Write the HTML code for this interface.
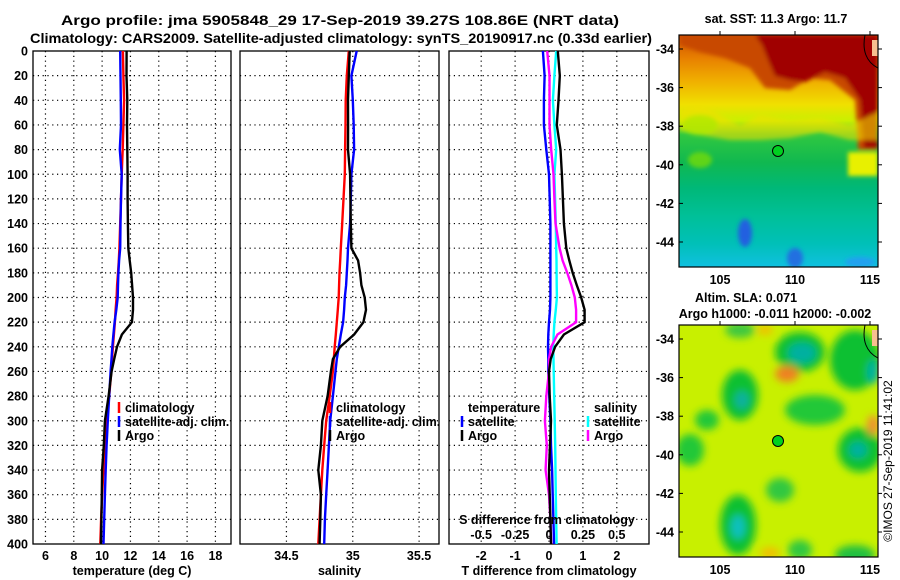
<!DOCTYPE html>
<html><head><meta charset="utf-8">
<style>
html,body{margin:0;padding:0;background:#fff;}
svg{display:block;font-family:"Liberation Sans",Arial,sans-serif;font-weight:bold;}
</style></head>
<body>
<svg id="chart" width="900" height="580" viewBox="0 0 900 580" xmlns="http://www.w3.org/2000/svg">
<defs>
<clipPath id="clipTop"><rect x="679" y="35" width="199" height="232"/></clipPath>
<clipPath id="clipBot"><rect x="679" y="325" width="199" height="232"/></clipPath>
<linearGradient id="sstGrad" x1="0" y1="0" x2="0" y2="1">
<stop offset="0" stop-color="#d05000"/>
<stop offset="0.1" stop-color="#e88000"/>
<stop offset="0.2" stop-color="#f0b000"/>
<stop offset="0.3" stop-color="#f0e000"/>
<stop offset="0.37" stop-color="#c8f000"/>
<stop offset="0.43" stop-color="#30c840"/>
<stop offset="0.55" stop-color="#10b850"/>
<stop offset="0.66" stop-color="#00b878"/>
<stop offset="0.78" stop-color="#00c098"/>
<stop offset="0.9" stop-color="#00c0b8"/>
<stop offset="1" stop-color="#10c0e0"/>
</linearGradient>
<filter id="blur4"><feGaussianBlur stdDeviation="4"/></filter>
<filter id="blur2"><feGaussianBlur stdDeviation="2"/></filter>
</defs>
<g id="titles">
<text x="340" y="25" font-size="13.5" text-anchor="middle" textLength="558" lengthAdjust="spacingAndGlyphs">Argo profile: jma 5905848_29 17-Sep-2019 39.27S 108.86E (NRT data)</text>
<text x="341" y="43" font-size="13.5" text-anchor="middle" textLength="622" lengthAdjust="spacingAndGlyphs">Climatology: CARS2009. Satellite-adjusted climatology: synTS_20190917.nc (0.33d earlier)</text>
</g>
<g id="panels"></g>
<g id="maps">
<g clip-path="url(#clipTop)">
<rect x="679" y="35" width="199" height="232" fill="url(#sstGrad)"/>
<g filter="url(#blur2)">
<polygon points="680,35 878,35 878,150 858,150 855,100 830,80 810,78 790,90 765,88 750,68 725,58 700,52 680,45" fill="#c84800"/>
<polygon points="755,35 878,35 878,148 864,148 860,100 845,78 825,72 805,82 790,80 775,76 768,60 762,45" fill="#a00000"/>
<polygon points="680,110 700,105 720,115 740,125 760,115 790,120 820,118 850,125 878,112 878,140 850,140 820,132 790,138 760,140 730,140 700,135 680,130" fill="#f0e000" opacity="0.6"/>
<rect x="848" y="152" width="30" height="24" fill="#e8f000"/>
<ellipse cx="700" cy="125" rx="18" ry="10" fill="#b0e800" opacity="0.8"/>
<ellipse cx="700" cy="160" rx="12" ry="8" fill="#80e000" opacity="0.7"/>
<ellipse cx="745" cy="233" rx="7" ry="14" fill="#2060e0"/>
<ellipse cx="795" cy="258" rx="8" ry="10" fill="#2070e0"/>
<ellipse cx="860" cy="262" rx="15" ry="5" fill="#20a0f0"/>
</g>
<polygon points="872,40 878,40 878,56 872,56" fill="#f8c090"/>
<path d="M865,35 C862,50 866,62 878,68" fill="none" stroke="#000" stroke-width="1"/>
</g>
<rect x="679" y="35" width="199" height="232" fill="none" stroke="#000" stroke-width="1.2"/>
<g clip-path="url(#clipBot)">
<rect x="679" y="325" width="199" height="232" fill="#c8f000"/>
<g filter="url(#blur4)">
<ellipse cx="800" cy="352" rx="25" ry="20" fill="#10c030"/>
<ellipse cx="855" cy="360" rx="25" ry="30" fill="#10c030"/>
<ellipse cx="740" cy="395" rx="18" ry="25" fill="#10c030"/>
<ellipse cx="815" cy="410" rx="30" ry="15" fill="#20c838"/>
<ellipse cx="860" cy="450" rx="22" ry="22" fill="#10c030"/>
<ellipse cx="690" cy="450" rx="14" ry="16" fill="#20c838"/>
<ellipse cx="707" cy="420" rx="12" ry="10" fill="#20c838"/>
<ellipse cx="738" cy="525" rx="18" ry="30" fill="#10c030"/>
<ellipse cx="780" cy="490" rx="14" ry="12" fill="#30c840"/>
<ellipse cx="800" cy="550" rx="12" ry="10" fill="#30c840"/>
<ellipse cx="855" cy="555" rx="20" ry="10" fill="#20c040"/>
<ellipse cx="740" cy="330" rx="15" ry="8" fill="#40c840"/>
<ellipse cx="802" cy="353" rx="14" ry="10" fill="#00b0a0"/>
<ellipse cx="742" cy="400" rx="7" ry="9" fill="#10b0a0"/>
<ellipse cx="858" cy="450" rx="9" ry="8" fill="#00b0a0"/>
<ellipse cx="738" cy="527" rx="7" ry="12" fill="#10c0c0"/>
<ellipse cx="873" cy="372" rx="6" ry="12" fill="#00b0a0"/>
<ellipse cx="787" cy="374" rx="12" ry="8" fill="#f08020"/>
<ellipse cx="873" cy="425" rx="6" ry="10" fill="#f09030"/>
<ellipse cx="765" cy="330" rx="8" ry="5" fill="#f0c000"/>
<ellipse cx="770" cy="553" rx="10" ry="6" fill="#f0c000"/>
</g>
<polygon points="872,330 878,330 878,346 872,346" fill="#f8c090"/>
<path d="M865,325 C862,340 866,352 878,358" fill="none" stroke="#000" stroke-width="1"/>
</g>
<rect x="679" y="325" width="199" height="232" fill="none" stroke="#000" stroke-width="1.2"/>
<circle cx="778" cy="151" r="5.5" fill="#00d020" stroke="#000" stroke-width="1"/>
<circle cx="778" cy="441" r="5.5" fill="#00d020" stroke="#000" stroke-width="1"/>
<text x="776" y="23" font-size="12.5" text-anchor="middle">sat. SST: 11.3 Argo: 11.7</text>
<text x="746" y="302" font-size="12.5" text-anchor="middle">Altim. SLA: 0.071</text>
<text x="775" y="318" font-size="12.5" text-anchor="middle">Argo h1000: -0.011 h2000: -0.002</text>
<text transform="translate(892,461) rotate(-90)" font-size="12" font-weight="normal" text-anchor="middle">©IMOS 27-Sep-2019 11:41:02</text>
</g>
</svg>
<script>
// ---- data ----
const depths = [0,20,40,60,80,100,120,140,160,170,180,190,200,210,220,230,240,250,260,280,300,320,340,360,380,400];
const tempClim = [11.47,11.5,11.55,11.5,11.45,11.38,11.33,11.28,11.22,11.18,11.12,11.06,11.02,10.95,10.9,10.83,10.76,10.7,10.65,10.5,10.3,10.18,10.1,10.0,9.93,9.87];
const tempSat  = [11.28,11.3,11.32,11.33,11.25,11.38,11.33,11.3,11.28,11.2,11.15,11.12,11.1,11.0,10.88,10.8,10.72,10.66,10.6,10.5,10.4,10.32,10.25,10.2,10.15,10.1];
const tempArgo = [11.73,11.72,11.78,11.76,11.78,11.8,11.8,11.82,11.85,11.95,12.05,12.12,12.18,12.18,12.1,11.4,11.05,10.85,10.67,10.46,10.2,10.12,10.0,9.98,9.95,9.92];
const salClim = [34.97,34.955,34.947,34.945,34.942,34.94,34.93,34.92,34.91,34.905,34.9,34.897,34.894,34.887,34.88,34.872,34.864,34.857,34.85,34.826,34.8,34.785,34.77,34.76,34.75,34.74];
const salSat  = [35.03,34.99,35.0,35.007,35.01,34.99,34.985,34.98,34.964,34.96,34.955,34.95,34.94,34.935,34.927,34.91,34.895,34.88,34.87,34.85,34.83,34.82,34.81,34.8,34.79,34.785];
const salArgo = [34.977,34.97,34.964,34.965,34.964,34.98,34.982,34.985,34.99,35.04,35.055,35.065,35.09,35.1,35.08,35.01,34.905,34.85,34.835,34.81,34.77,34.76,34.74,34.76,34.755,34.75];
const dTempSat  = [-0.18,-0.13,-0.15,-0.15,-0.08,0,0.02,0.04,0.04,0.04,0.04,0.04,0.04,0.03,0.0,-0.02,-0.03,-0.02,-0.02,0.01,0.04,0.06,0.09,0.11,0.13,0.15];
const dTempArgo = [0.26,0.32,0.28,0.23,0.34,0.38,0.41,0.44,0.51,0.6,0.7,0.82,0.95,1.05,1.05,0.44,0.18,0.05,0,0.02,0.06,0.03,0,0.02,0.04,0.06];
const dSalSat  = [0.053,0.04,0.029,0.04,0.053,0.04,0.045,0.05,0.053,0.055,0.056,0.057,0.058,0.05,0.04,0.035,0.031,0.033,0.035,0.038,0.042,0.046,0.048,0.05,0.053,0.056];
const dSalArgo = [-0.013,0.004,0.004,0.004,0.016,0.033,0.04,0.048,0.078,0.1,0.135,0.165,0.19,0.2,0.2,0.063,0.016,0,0,-0.02,-0.03,-0.016,-0.025,0,0.01,0.016];
const depthTicks = [0,20,40,60,80,100,120,140,160,180,200,220,240,260,280,300,320,340,360,380,400];
const tempTicks = [6,8,10,12,14,16,18];
const salTicks = [34.5,35,35.5];
const salTickLabels = ["34.5","35","35.5"];
const dTempTicks = [-2,-1,0,1,2];
const dSalTicks = [-0.5,-0.25,0,0.25,0.5];
const dSalTickLabels = ["-0.5","-0.25","0","0.25","0.5"];
const latTicks = [-34,-36,-38,-40,-42,-44];
const lonTicks = [105,110,115];

const NS = "http://www.w3.org/2000/svg";
const panelsG = document.getElementById("panels");
const mapsG = document.getElementById("maps");
const yTop = 51, yBot = 544;
function yScale(d){ return yTop + d/400*(yBot-yTop); }
function mk(tag, attrs, parent){
  const e = document.createElementNS(NS, tag);
  for (const k in attrs) e.setAttribute(k, attrs[k]);
  (parent||panelsG).appendChild(e);
  return e;
}
function txt(x,y,s,size,anchor,parent){
  const t = mk("text",{x:x,y:y,"font-size":size,"text-anchor":anchor||"middle"},parent);
  t.textContent = s;
  return t;
}

const panels = [
  {name:"temperature", x0:33, x1:231, dmin:5.12, dmax:19.1, ticks:tempTicks, labels:tempTicks.map(String), title:"temperature (deg C)"},
  {name:"salinity", x0:240, x1:439, dmin:34.15, dmax:35.65, ticks:salTicks, labels:salTickLabels, title:"salinity"},
  {name:"difference", x0:449, x1:649, dmin:-2.95, dmax:2.95, ticks:dTempTicks, labels:dTempTicks.map(String), title:"T difference from climatology"}
];
function xScaleFor(p){ return v => p.x0 + (v-p.dmin)/(p.dmax-p.dmin)*(p.x1-p.x0); }

panels.forEach((p,pi)=>{
  const xs = xScaleFor(p);
  const g = mk("g",{});
  
  
  depthTicks.forEach(d=>{
    if (d===0||d===400) return;
    const l = mk("line",{x1:p.x0,x2:p.x1,y1:yScale(d),y2:yScale(d),stroke:"#000","stroke-width":1.2,"stroke-dasharray":"1.2,3.6"},g);
    
    
  });
  p.ticks.forEach((t,i)=>{
    const x = xs(t);
    const l = mk("line",{x1:x,x2:x,y1:yTop,y2:yBot,stroke:"#000","stroke-width":1.2,"stroke-dasharray":"1.2,3.6"},g);
    
    
    const lab = txt(x, 560, p.labels[i], 12.5, "middle", g);
    
    
  });
  const fr = mk("rect",{x:p.x0,y:yTop,width:p.x1-p.x0,height:yBot-yTop,fill:"none",stroke:"#000","stroke-width":1.3},g);
  
  
  const at = txt((p.x0+p.x1)/2, 575, p.title, 12.5, "middle", g);
  
  
  if (pi===0){
    depthTicks.forEach(d=>{
      const lab = txt(28, yScale(d)+4.5, String(d), 12.5, "end", g);
      
      
    });
  }
  p.g = g; p.xs = xs;
});

function line(p, vals, scaleMul, color, name){
  const xs = p.xs;
  const pts = depths.map((d,i)=> xs(vals[i]*scaleMul).toFixed(1)+","+yScale(d).toFixed(1)).join(" ");
  const pl = mk("polyline",{points:pts,fill:"none",stroke:color,"stroke-width":2.4,"stroke-linejoin":"miter"},p.g);
  
  
}
line(panels[0], tempClim, 1, "#ff0000", "temperature-climatology-line");
line(panels[0], tempSat, 1, "#0000ff", "temperature-satellite-line");
line(panels[0], tempArgo, 1, "#000000", "temperature-argo-line");
line(panels[1], salClim, 1, "#ff0000", "salinity-climatology-line");
line(panels[1], salSat, 1, "#0000ff", "salinity-satellite-line");
line(panels[1], salArgo, 1, "#000000", "salinity-argo-line");
line(panels[2], dTempSat, 1, "#0000ff", "temp-diff-satellite-line");
line(panels[2], dSalSat, 4, "#00ffff", "sal-diff-satellite-line");
line(panels[2], dSalArgo, 4, "#ff00ff", "sal-diff-argo-line");
line(panels[2], dTempArgo, 1, "#000000", "temp-diff-argo-line");

const sp = panels[2];
const sTitle = txt(547, 524, "S difference from climatology", 12.5, "middle", sp.g);


dSalTicks.forEach((t,i)=>{
  const lab = txt(sp.xs(t*4), 539, dSalTickLabels[i], 12.5, "middle", sp.g);
  
  
});

function legendEntry(g, xTick, y, color, label){
  const l = mk("line",{x1:xTick,x2:xTick,y1:y-10,y2:y+1,stroke:color,"stroke-width":2.5},g);
  
  
  const t = txt(xTick+6, y, label, 12.5, "start", g);
  
  
}
const lg1 = mk("g",{});  
legendEntry(lg1, 119, 412, "#ff0000", "climatology");
legendEntry(lg1, 119, 426, "#0000ff", "satellite-adj. clim.");
legendEntry(lg1, 119, 440, "#000000", "Argo");
const lg2 = mk("g",{});  
legendEntry(lg2, 330, 412, "#ff0000", "climatology");
legendEntry(lg2, 330, 426, "#0000ff", "satellite-adj. clim.");
legendEntry(lg2, 330, 440, "#000000", "Argo");
const lg3 = mk("g",{});  
const h1 = txt(468, 412, "temperature", 12.5, "start", lg3);
 
const h2 = txt(594, 412, "salinity", 12.5, "start", lg3);
 
legendEntry(lg3, 462, 426, "#0000ff", "satellite");
legendEntry(lg3, 462, 440, "#000000", "Argo");
legendEntry(lg3, 588, 426, "#00ffff", "satellite");
legendEntry(lg3, 588, 440, "#ff00ff", "Argo");

function lonX(lon){ return 720 + (lon-105)*15; }
function mapAxes(top, lat34y, labelY){
  latTicks.forEach(lat=>{
    const y = lat34y + (-34-lat)*19.3;
    const t = txt(674, y+4.5, String(lat), 12.5, "end", mapsG);
    
    
    const tk = mk("line",{x1:679,x2:683,y1:y,y2:y,stroke:"#000"},mapsG);
     
    const tk2 = mk("line",{x1:878,x2:882,y1:y,y2:y,stroke:"#000"},mapsG);
     
  });
  lonTicks.forEach(lon=>{
    const x = lonX(lon);
    const t = txt(x, labelY, String(lon), 12.5, "middle", mapsG);
    
    
    const tk = mk("line",{x1:x,x2:x,y1:top-4,y2:top,stroke:"#000"},mapsG);
     
  });
}
mapAxes(35, 49, 284);
mapAxes(325, 339, 574);
</script>
</body></html>
